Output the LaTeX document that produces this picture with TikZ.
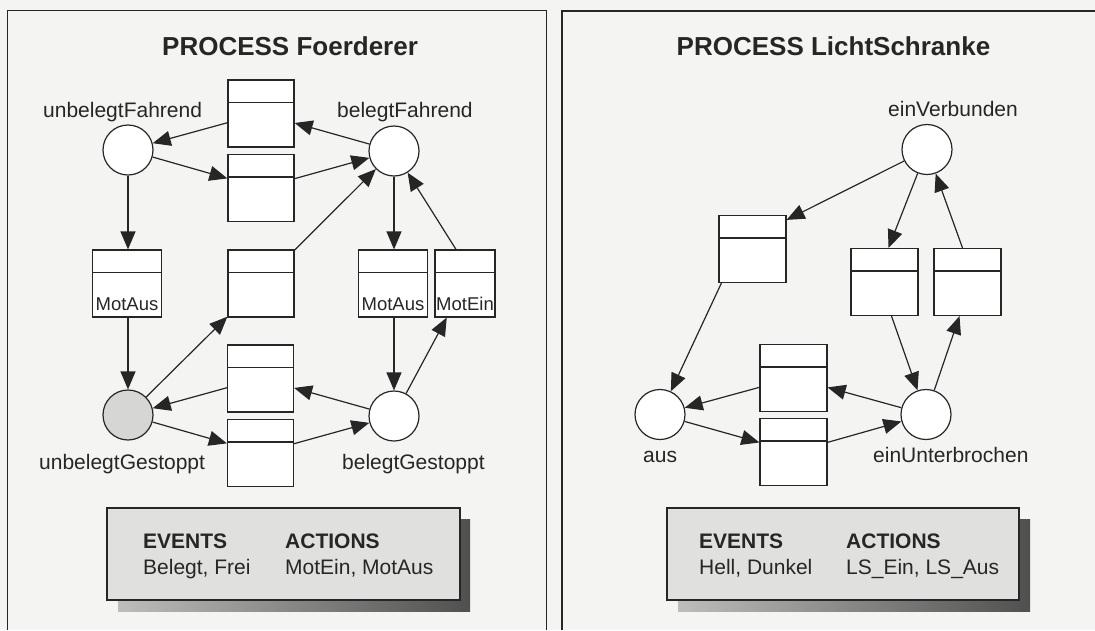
\documentclass[tikz,border=0pt]{standalone}
\usepackage{fontspec}
\setmainfont{Liberation Sans}
\usetikzlibrary{arrows.meta,calc}
\definecolor{paper}{HTML}{F4F4F2}
\definecolor{ink}{HTML}{262626}
\definecolor{legendfill}{HTML}{E0E0DE}
\definecolor{placegray}{HTML}{D6D6D4}
\definecolor{shadowlight}{HTML}{BDBDBB}
\definecolor{shadowdark}{HTML}{505050}
\tikzset{
  place/.style={circle, draw=ink, line width=1.2pt, fill=white, minimum size=50pt, inner sep=0pt},
  trans/.style={rectangle, draw=ink, line width=1.2pt, fill=white,
    minimum width=66pt, minimum height=67pt, inner sep=0pt,
    path picture={\draw[ink, line width=1.1pt]
      ([yshift=-22.5pt]path picture bounding box.north west) --
      ([yshift=-22.5pt]path picture bounding box.north east);}},
  flow/.style={draw=ink, line width=1.2pt, -{Triangle[length=18pt,width=15pt]}},
  lbl/.style={font=\fontsize{21pt}{25pt}\selectfont, text=ink, inner sep=0pt, anchor=base west},
  act/.style={font=\fontsize{18.5pt}{22pt}\selectfont, text=ink, inner sep=0pt, anchor=base},
  ttl/.style={font=\fontsize{26pt}{30pt}\selectfont\bfseries, text=ink, inner sep=0pt, anchor=base west},
  head/.style={font=\fontsize{21pt}{25pt}\selectfont\bfseries, text=ink, inner sep=0pt, anchor=base west},
  frame/.style={draw=ink, line width=1.3pt},
  legend/.style={draw=ink, line width=1.2pt, fill=legendfill},
}
\begin{document}
\begin{tikzpicture}[x=1pt, y=-1pt]
  % paper and bounding box
  \fill[paper] (0,0) rectangle (1095,630);
  \useasboundingbox (0,0) rectangle (1095,630);

  % panel frames (cut off at the bottom and right edge)
  \draw[frame] (7.5,630) -- (7.5,10.5) -- (546.5,10.5) -- (546.5,630);
  \draw[frame] (562,630) -- (562,11) -- (1095,11);

  % ---------------- PROCESS Foerderer ----------------
  \node[ttl] (ftitle) at (162,55) {PROCESS Foerderer};

  \node[place] (uF) at (128,150) {};
  \node[place] (bF) at (394,151) {};
  \node[place, fill=placegray] (uG) at (128,415) {};
  \node[place] (bG) at (394,416) {};

  \node[lbl] (uFl) at (43,117) {unbelegtFahrend};
  \node[lbl] (bFl) at (337,117) {belegtFahrend};
  \node[lbl] (uGl) at (39,469.5) {unbelegtGestoppt};
  \node[lbl] (bGl) at (342,469.5) {belegtGestoppt};

  \node[trans] (T1) at (261,113.5) {};
  \node[trans] (T2) at (261,188) {};
  \node[trans, minimum width=69pt] (T3) at (127,283.5) {};
  \node[trans] (T4) at (261,283.5) {};
  \node[trans, minimum width=69pt] (T5) at (393,283.5) {};
  \node[trans, minimum width=60pt] (T6) at (465,283.5) {};
  \node[trans] (T7) at (260.5,378.5) {};
  \node[trans] (T8) at (260.5,453) {};

  \node[act] (T3a) at (127,310) {MotAus};
  \node[act] (T5a) at (393,310) {MotAus};
  \node[act] (T6a) at (465,310) {MotEin};

  \draw[flow] (T1) -- (uF);
  \draw[flow] (bF) -- (T1);
  \draw[flow] (uF) -- (uF |- T3.north);
  \draw[flow] (uF) -- (T2);
  \draw[flow] (T2) -- (bF);
  \draw[flow] (T4) -- (bF);
  \draw[flow] (bF) -- (bF |- T5.north);
  \draw[flow] ([xshift=-9pt]T6.north) -- (bF);
  \draw[flow] (T3.south -| uG) -- (uG);
  \draw[flow] (uG) -- (T4);
  \draw[flow] (T7) -- (uG);
  \draw[flow] (uG) -- (T8);
  \draw[flow] (bG) -- (T7);
  \draw[flow] (T8) -- (bG);
  \draw[flow] (T5.south -| bG) -- (bG);
  \draw[flow] (bG) -- (T6);

  % legend with drop shadow
  \shade[left color=shadowlight, right color=shadowdark] (118,519) rectangle (470,611);
  \draw[legend] (107,508) rectangle (460,600);
  \node[head] (fev) at (143,548.5) {EVENTS};
  \node[lbl] (fevl) at (143,574) {Belegt, Frei};
  \node[head] (fac) at (285,548.5) {ACTIONS};
  \node[lbl] (facl) at (285,574) {MotEin, MotAus};

  % ---------------- PROCESS LichtSchranke ----------------
  \node[ttl] (ltitle) at (676.5,55) {PROCESS LichtSchranke};

  \node[place] (eV) at (927,149.5) {};
  \node[place] (aus) at (660,414.5) {};
  \node[place] (eU) at (926,414.5) {};

  \node[lbl] (eVl) at (888,116.5) {einVerbunden};
  \node[lbl] (ausl) at (643,462.5) {aus};
  \node[lbl] (eUl) at (873,462.5) {einUnterbrochen};

  \node[trans, minimum width=67pt] (A) at (752.5,249) {};
  \node[trans, minimum width=67pt] (B) at (884.5,282) {};
  \node[trans, minimum width=67pt] (C) at (967.5,282) {};
  \node[trans, minimum width=67pt] (D) at (793.5,378) {};
  \node[trans, minimum width=67pt] (E) at (793.5,452) {};

  \draw[flow] (eV) -- ([yshift=-5pt]A.north east);
  \draw[flow] ([xshift=3pt]A.south west) -- (aus);
  \draw[flow] (eV) -- ([xshift=4pt]B.north);
  \draw[flow] ([xshift=-5pt]C.north) -- (eV);
  \draw[flow] ([xshift=7pt]B.south) -- (eU);
  \draw[flow] (eU) -- ([xshift=-8pt]C.south);
  \draw[flow] (eU) -- (D);
  \draw[flow] (D) -- (aus);
  \draw[flow] (aus) -- (E);
  \draw[flow] (E) -- (eU);

  \shade[left color=shadowlight, right color=shadowdark] (678,519) rectangle (1030,611);
  \draw[legend] (667,508) rectangle (1019,600);
  \node[head] (lev) at (699,548.5) {EVENTS};
  \node[lbl] (levl) at (699,574) {Hell, Dunkel};
  \node[head] (lac) at (846,548.5) {ACTIONS};
  \node[lbl] (lacl) at (846,574) {LS\_Ein, LS\_Aus};
\end{tikzpicture}
\end{document}
